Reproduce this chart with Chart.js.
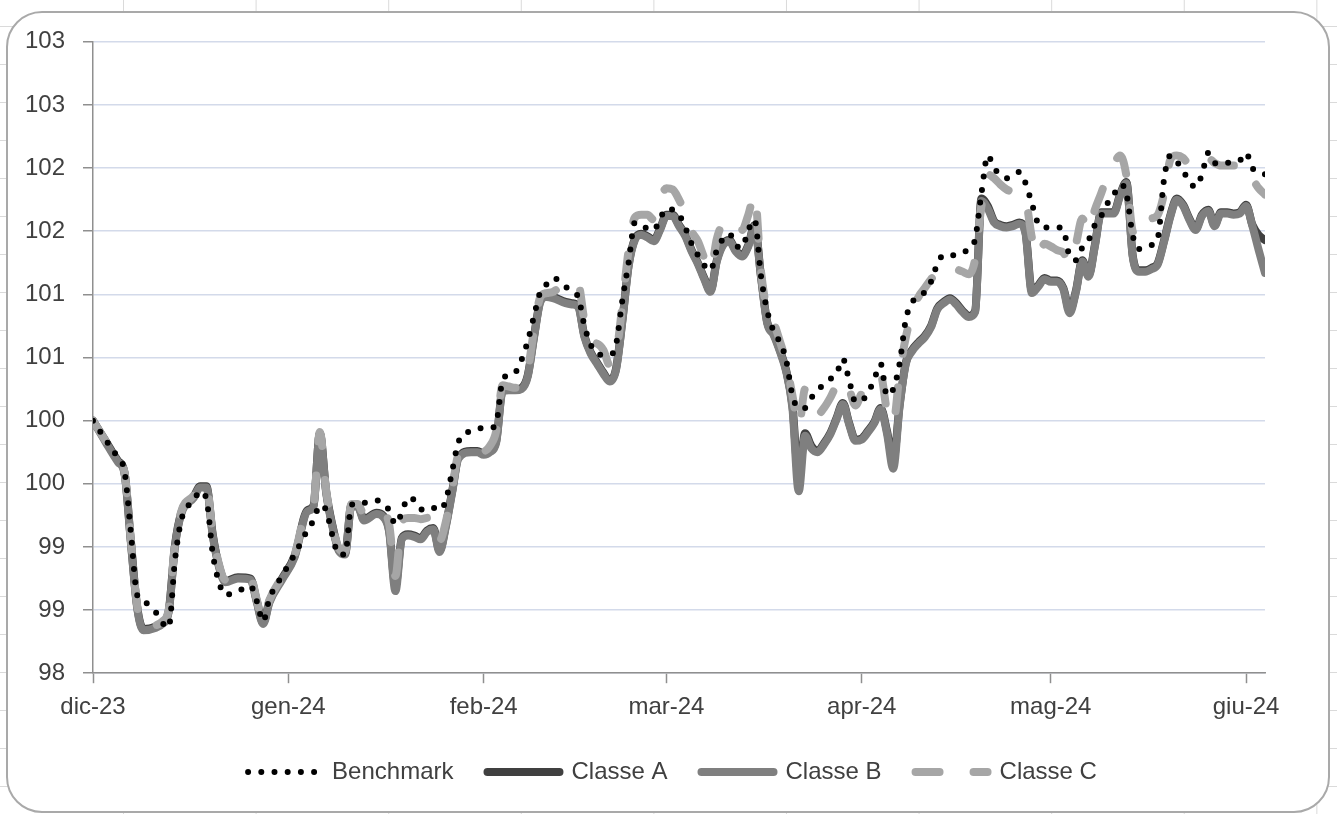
<!DOCTYPE html>
<html lang="it">
<head>
<meta charset="utf-8">
<title>Benchmark e classi</title>
<script src="https://cdn.jsdelivr.net/npm/chart.js@4.4.1/dist/chart.umd.min.js"></script>
<style>
  html, body { margin: 0; padding: 0; }
  body {
    width: 1337px;
    height: 814px;
    overflow: hidden;
    background-color: #fff;
    background-image: linear-gradient(to right, #dadada 1px, transparent 1px),
                      linear-gradient(to bottom, #dadada 1px, transparent 1px);
    background-size: 132.6px 38px;
    background-position: 123px 26px;
  }
  #cornice {
    position: absolute;
    left: 6px;
    top: 11px;
    width: 1320px;
    height: 798px;
    border: 2px solid #a9a9a9;
    border-radius: 36px;
    background: #fff;
  }
  #grafico { position: absolute; left: 0; top: 0; }
</style>
</head>
<body>
<div id="cornice">
  <canvas id="grafico" width="1320" height="798"></canvas>
</div>
<script>
// giorni trascorsi dal 1 dicembre 2023
const giorni = [
  0, 2, 4, 5, 6, 7, 8, 10, 11, 12, 13, 14, 16, 17, 18, 19, 20, 21, 23, 25, 26, 27, 28, 30,
  32, 34, 35, 36, 37, 38, 39, 40, 41, 42, 43, 45, 46, 47, 48, 49, 50, 51, 52, 53, 54, 55, 56, 57, 58, 60, 61, 62,
  63, 64, 65, 66, 67, 68, 69, 70, 71, 72, 73, 75, 76, 77, 78, 79, 80, 81, 82, 83, 84, 85, 86, 87, 88, 89, 90, 91,
  92, 93, 94, 95, 96, 97, 98, 99, 100, 101, 102, 103, 104, 105, 106, 107, 108, 109, 110, 111, 112, 113, 114, 115, 116, 117, 118, 119, 120, 121, 122,
  123, 124, 125, 126, 127, 128, 129, 130, 131, 132, 133, 134, 135, 136, 137, 138, 139, 140, 141, 142, 143, 144, 145, 146, 147, 148, 149, 150, 151, 152,
  153, 154, 155, 156, 157, 158, 159, 160, 161, 162, 163, 164, 165, 166, 167, 168, 169, 170, 171, 172, 173, 174, 175, 176, 177, 178, 179, 180, 181, 182, 183, 184, 185, 186
]

const benchmark = [
  100.00, 99.85, 99.70, 99.60, 99.12, 98.62, 98.57, 98.48, 98.40, 98.36, 98.89, 99.21, 99.37, 99.44, 99.38, 98.95, 98.72, 98.62, 98.65, 98.69, 98.57, 98.41, 98.59, 98.77,
  98.94, 99.13, 99.21, 99.33, 99.29, 99.09, 98.94, 98.94, 99.33, 99.35, 99.35, 99.37, 99.34, 99.29, 99.18, 99.27, 99.39, 99.37, 99.30, 99.29, 99.31, 99.29, 99.37, 99.60, 99.83, 99.92, 99.94, 99.94,
  99.94, 99.98, 100.32, 100.36, 100.38, 100.48, 100.63, 100.83, 101.02, 101.08, 101.13, 101.06, 101.02, 100.98, 100.75, 100.60, 100.53, 100.52, 100.52, 100.60, 100.95, 101.25, 101.57, 101.55, 101.52, 101.51, 101.60, 101.68,
  101.67, 101.63, 101.53, 101.40, 101.31, 101.23, 101.19, 101.35, 101.44, 101.48, 101.39, 101.37, 101.51, 101.59, 101.15, 100.87, 100.71, 100.62, 100.48, 100.20, 100.10, 100.10, 100.18, 100.24, 100.29, 100.33, 100.37, 100.49, 100.32, 100.15, 100.16,
  100.22, 100.33, 100.45, 100.20, 100.25, 100.45, 100.80, 100.94, 100.97, 101.02, 101.10, 101.24, 101.31, 101.31, 101.31, 101.33, 101.36, 101.44, 101.80, 102.10, 102.00, 101.95, 101.92, 101.95, 101.97, 101.88, 101.72, 101.56, 101.53, 101.53,
  101.53, 101.51, 101.30, 101.27, 101.37, 101.43, 101.55, 101.62, 101.72, 101.79, 101.87, 101.80, 101.47, 101.36, 101.37, 101.39, 101.45, 101.92, 102.10, 102.05, 101.98, 101.89, 101.85, 101.95, 102.12, 102.04, 102.03, 102.04, 102.05, 102.06, 102.12, 102.00, 101.97, 101.95
]

const classeA = [
  100.00, 99.84, 99.68, 99.59, 99.05, 98.53, 98.35, 98.37, 98.40, 98.49, 99.01, 99.27, 99.40, 99.48, 99.48, 99.10, 98.85, 98.73, 98.76, 98.75, 98.57, 98.40, 98.57, 98.75,
  98.93, 99.29, 99.33, 99.90, 99.44, 99.17, 98.98, 98.95, 99.33, 99.33, 99.22, 99.27, 99.25, 99.13, 98.69, 99.07, 99.10, 99.09, 99.07, 99.13, 99.15, 98.97, 99.17, 99.44, 99.71, 99.76, 99.76, 99.74,
  99.76, 99.84, 100.24, 100.25, 100.25, 100.26, 100.36, 100.67, 100.95, 100.99, 100.98, 100.94, 100.93, 100.91, 100.67, 100.54, 100.46, 100.38, 100.32, 100.41, 100.79, 101.23, 101.44, 101.48, 101.46, 101.43, 101.52, 101.63,
  101.63, 101.55, 101.47, 101.35, 101.25, 101.13, 101.03, 101.27, 101.40, 101.43, 101.35, 101.31, 101.39, 101.55, 101.15, 100.78, 100.69, 100.56, 100.40, 100.12, 99.55, 99.90, 99.80, 99.76, 99.82, 99.90, 100.02, 100.14, 99.98, 99.85, 99.86,
  99.92, 99.99, 100.10, 99.92, 99.68, 100.12, 100.46, 100.56, 100.62, 100.67, 100.75, 100.89, 100.94, 100.97, 100.93, 100.87, 100.83, 100.87, 101.76, 101.70, 101.58, 101.55, 101.54, 101.55, 101.57, 101.49, 101.03, 101.07, 101.13, 101.11,
  101.11, 101.05, 100.87, 101.03, 101.27, 101.15, 101.39, 101.65, 101.65, 101.65, 101.79, 101.89, 101.31, 101.19, 101.19, 101.21, 101.25, 101.43, 101.63, 101.76, 101.71, 101.60, 101.52, 101.63, 101.67, 101.55, 101.65, 101.65, 101.64, 101.65, 101.71, 101.55, 101.47, 101.43
]

const classeB = [
  100.00, 99.83, 99.67, 99.58, 99.04, 98.52, 98.34, 98.36, 98.39, 98.48, 99.00, 99.26, 99.39, 99.47, 99.47, 99.09, 98.84, 98.72, 98.75, 98.74, 98.56, 98.39, 98.56, 98.74,
  98.92, 99.28, 99.32, 99.90, 99.43, 99.16, 98.97, 98.94, 99.32, 99.32, 99.21, 99.26, 99.24, 99.12, 98.65, 99.06, 99.09, 99.08, 99.06, 99.12, 99.14, 98.96, 99.16, 99.43, 99.70, 99.75, 99.75, 99.73,
  99.75, 99.83, 100.23, 100.24, 100.24, 100.25, 100.35, 100.66, 100.94, 100.98, 100.97, 100.93, 100.92, 100.90, 100.66, 100.53, 100.45, 100.37, 100.31, 100.40, 100.78, 101.22, 101.43, 101.47, 101.45, 101.42, 101.51, 101.62,
  101.62, 101.54, 101.46, 101.34, 101.24, 101.12, 101.02, 101.26, 101.39, 101.42, 101.34, 101.30, 101.38, 101.54, 101.14, 100.77, 100.68, 100.55, 100.39, 100.10, 99.44, 99.88, 99.78, 99.75, 99.81, 99.89, 100.01, 100.13, 99.97, 99.84, 99.85,
  99.91, 99.98, 100.09, 99.90, 99.62, 100.11, 100.45, 100.55, 100.61, 100.66, 100.74, 100.88, 100.93, 100.96, 100.92, 100.86, 100.82, 100.86, 101.74, 101.68, 101.57, 101.54, 101.53, 101.54, 101.56, 101.48, 101.01, 101.06, 101.12, 101.10,
  101.10, 101.04, 100.85, 101.02, 101.26, 101.14, 101.38, 101.64, 101.64, 101.64, 101.78, 101.88, 101.30, 101.18, 101.18, 101.20, 101.24, 101.42, 101.62, 101.75, 101.70, 101.59, 101.51, 101.62, 101.66, 101.54, 101.64, 101.64, 101.63, 101.64, 101.70, 101.54, 101.35, 101.17
]

const classeC = [
  100.00, 99.84, 99.68, 99.59, 99.06, 98.54, 98.36, 98.38, 98.41, 98.50, 99.02, 99.28, 99.41, 99.49, 99.49, 99.11, 98.86, 98.74, 98.77, 98.76, 98.58, 98.41, 98.58, 98.76,
  98.94, 99.30, 99.34, 99.91, 99.45, 99.18, 98.99, 98.96, 99.34, 99.34, 99.26, 99.30, 99.28, 99.18, 98.77, 99.20, 99.23, 99.23, 99.22, 99.23, 99.24, 99.05, 99.20, 99.46, 99.73, 99.78, 99.78, 99.76,
  99.80, 99.92, 100.28, 100.27, 100.26, 100.27, 100.40, 100.72, 100.98, 101.01, 101.02, 101.09, 101.11, 101.09, 100.79, 100.63, 100.61, 100.56, 100.44, 100.52, 100.91, 101.35, 101.61, 101.63, 101.63, 101.59, 101.75, 101.84,
  101.83, 101.75, 101.64, 101.50, 101.42, 101.29, 101.19, 101.44, 101.57, 101.60, 101.55, 101.51, 101.63, 101.79, 101.19, 100.87, 100.78, 100.63, 100.46, 100.20, 99.95, 100.25, 100.12, 100.05, 100.10, 100.18, 100.28, 100.33, 100.25, 100.12, 100.22,
  100.30, 100.34, 100.36, 100.08, 99.98, 100.37, 100.66, 100.85, 100.98, 101.05, 101.12, 101.17, 101.23, 101.22, 101.20, 101.18, 101.16, 101.28, 101.70, 101.95, 101.92, 101.87, 101.83, 101.81, 101.79, 101.75, 101.45, 101.30, 101.40, 101.38,
  101.35, 101.33, 101.25, 101.40, 101.60, 101.50, 101.67, 101.80, 101.94, 102.03, 102.10, 101.94, 101.50, 101.45, 101.56, 101.60, 101.63, 101.80, 102.07, 102.10, 102.08, 102.02, 102.00, 102.06, 102.08, 102.04, 102.02, 102.02, 102.02, 102.03, 102.02, 101.92, 101.84, 101.79
]

const mesi = ['dic-23', 'gen-24', 'feb-24', 'mar-24', 'apr-24', 'mag-24', 'giu-24']
const inizioMesi = [0, 31, 62, 91, 122, 152, 183]
const tickY = [98, 98.5, 99, 99.5, 100, 100.5, 101, 101.5, 102, 102.5, 103]

const testo = '#404040'
const asse = '#8f8f8f'
const griglia = '#d3daea'

Chart.defaults.font.family = "'Liberation Sans', Arial, sans-serif"
Chart.defaults.font.size = 24
Chart.defaults.color = testo

const punti = serie => serie.map((v, i) => ({ x: giorni[i], y: v }))

const linea = {
    pointRadius: 0,
    pointHoverRadius: 0,
    fill: false,
    borderCapStyle: 'round',
    borderJoinStyle: 'round',
    cubicInterpolationMode: 'monotone'
}

// la legenda di Excel e' centrata sotto l'area del grafico, non sul canvas
const spostaLegenda = {
    id: 'spostaLegenda',
    afterLayout(chart) {
        const l = chart.legend
        l.left += 30
        l.right += 30
        l.top -= 6
        l.bottom -= 6
    }
}

new Chart(document.getElementById('grafico'), {
    type: 'line',
    data: {
        datasets: [
            { ...linea, label: 'Benchmark', data: punti(benchmark), borderColor: '#000000', borderWidth: 6, borderDash: [0, 13.2], order: 0 },
            { ...linea, label: 'Classe A', data: punti(classeA), borderColor: '#404040', borderWidth: 8, order: 3 },
            { ...linea, label: 'Classe B', data: punti(classeB), borderColor: '#7f7f7f', borderWidth: 8, order: 2 },
            { ...linea, label: 'Classe C', data: punti(classeC), borderColor: '#a6a6a6', borderWidth: 8, borderDash: [24, 34], order: 1 }
        ]
    },
    options: {
        responsive: false,
        animation: false,
        layout: { padding: { left: 12, right: 63, top: 23, bottom: 11 } },
        scales: {
            x: {
                type: 'linear',
                min: 0,
                max: 186,
                afterBuildTicks: s => { s.ticks = inizioMesi.map(v => ({ value: v })) },
                ticks: { callback: (v, i) => mesi[i], autoSkip: false, maxRotation: 0, padding: 10 },
                grid: { drawOnChartArea: false, tickLength: 10, tickColor: asse, tickWidth: 1.5 },
                border: { color: asse, width: 1.5 }
            },
            y: {
                min: 98,
                max: 103,
                afterBuildTicks: s => { s.ticks = tickY.map(v => ({ value: v })) },
                afterFit: s => { s.width = 73 },
                ticks: { callback: v => Math.round(v), padding: 18, font: { lineHeight: 0.9 } },
                grid: { color: griglia, lineWidth: 1.5, tickLength: 10, tickColor: asse, tickWidth: 1.5 },
                border: { color: asse, width: 1.5 }
            }
        },
        plugins: {
            tooltip: { enabled: false },
            legend: {
                position: 'bottom',
                labels: {
                    usePointStyle: true,
                    pointStyleWidth: 72,
                    padding: 34,
                    generateLabels: chart => chart.data.datasets.map((ds, i) => ({
                        text: ds.label,
                        strokeStyle: ds.borderColor,
                        fillStyle: ds.borderColor,
                        lineWidth: ds.borderWidth,
                        lineDash: ds.borderDash || [],
                        lineCap: 'round',
                        pointStyle: 'line',
                        fontColor: testo,
                        hidden: false,
                        datasetIndex: i
                    }))
                }
            }
        }
    },
    plugins: [spostaLegenda]
})
</script>
</body>
</html>
